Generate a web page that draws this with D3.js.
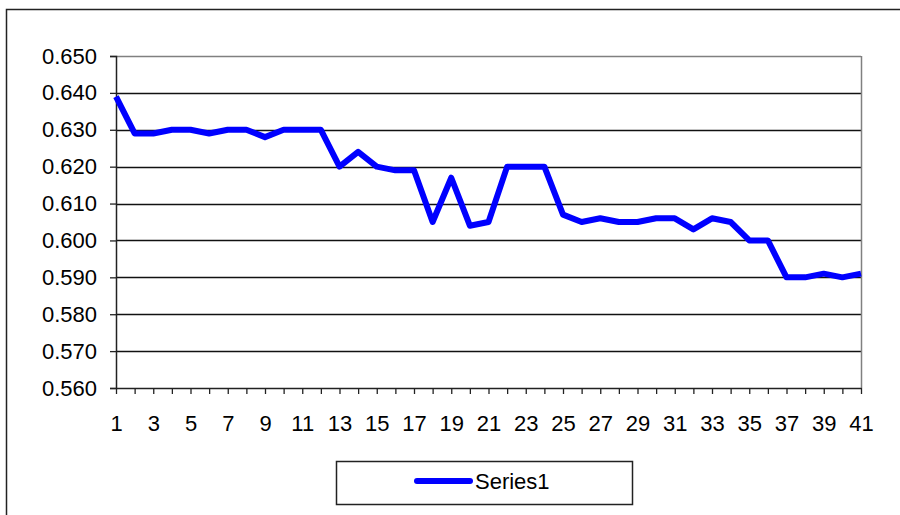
<!DOCTYPE html>
<html>
<head>
<meta charset="utf-8">
<script src="https://cdn.jsdelivr.net/npm/d3@7"></script>
<style>
  body { margin: 0; background: #fff; }
  svg { font-family: "Liberation Sans", Arial, sans-serif; }
</style>
</head>
<body>
<svg width="900" height="515"></svg>
<script>
(function (d3) {
  'use strict';

  const seriesName = 'Series1';
  const xValues = d3.range(1, 42);
  const series1 = [
    0.639, 0.629, 0.629, 0.630, 0.630, 0.629, 0.630, 0.630, 0.628, 0.630,
    0.630, 0.630, 0.620, 0.624, 0.620, 0.619, 0.619, 0.605, 0.617, 0.604,
    0.605, 0.620, 0.620, 0.620, 0.607, 0.605, 0.606, 0.605, 0.605, 0.606,
    0.606, 0.603, 0.606, 0.605, 0.600, 0.600, 0.590, 0.590, 0.591, 0.590,
    0.591
  ];
  const yTicks = [0.56, 0.57, 0.58, 0.59, 0.60, 0.61, 0.62, 0.63, 0.64, 0.65];
  const xTickLabels = xValues.filter(v => v % 2 === 1);

  const fontSize = 22;
  const svg = d3.select('svg');

  // outer chart border (runs off the right and bottom edges)
  svg.append('rect')
      .attr('x', 6.5).attr('y', 9.5)
      .attr('width', 910).attr('height', 520)
      .attr('fill', 'none')
      .attr('stroke', '#222')
      .attr('stroke-width', 1.5);

  const margin = { top: 56, left: 116 };
  const innerWidth = 745;
  const innerHeight = 332;

  const g = svg.append('g')
      .attr('transform', `translate(${margin.left},${margin.top})`);

  const x = d3.scaleLinear().domain([1, 41]).range([0, innerWidth]);
  const y = d3.scaleLinear().domain([0.56, 0.65]).range([innerHeight, 0]);

  // gridlines
  g.selectAll('.grid').data(yTicks.slice(1))
    .enter().append('line')
      .attr('x1', 0).attr('x2', innerWidth)
      .attr('y1', d => Math.round(y(d)) + 0.5)
      .attr('y2', d => Math.round(y(d)) + 0.5)
      .attr('stroke', d => d === 0.65 ? '#808080' : '#111')
      .attr('stroke-width', 1.3);

  // right border of plot area
  g.append('line')
      .attr('x1', innerWidth + 0.5).attr('x2', innerWidth + 0.5)
      .attr('y1', 0).attr('y2', innerHeight)
      .attr('stroke', '#808080')
      .attr('stroke-width', 1.5);

  // y axis
  const yAxis = d3.axisLeft(y)
      .tickValues(yTicks)
      .tickFormat(d3.format('.3f'))
      .tickSize(6)
      .tickPadding(13);
  const yG = g.append('g').call(yAxis);
  yG.select('.domain').attr('stroke', '#222').attr('stroke-width', 1.5);
  yG.selectAll('.tick line').attr('stroke', '#222').attr('stroke-width', 1.3);
  yG.selectAll('text').attr('font-size', fontSize).attr('fill', '#000')
      .attr('font-family', '"Liberation Sans", Arial, sans-serif');

  // x axis
  const xAxis = d3.axisBottom(x)
      .tickValues(xValues)
      .tickFormat(d => xTickLabels.includes(d) ? d : '')
      .tickSize(6)
      .tickSizeOuter(0)
      .tickPadding(21);
  const xG = g.append('g')
      .attr('transform', `translate(0,${innerHeight})`)
      .call(xAxis);
  xG.select('.domain').attr('stroke', '#222').attr('stroke-width', 1.5);
  xG.selectAll('.tick line').attr('stroke', '#222').attr('stroke-width', 1.3);
  xG.selectAll('text').attr('font-size', fontSize).attr('fill', '#000')
      .attr('font-family', '"Liberation Sans", Arial, sans-serif');

  // series line
  const line = d3.line()
      .x((d, i) => x(xValues[i]))
      .y(d => y(d));

  g.append('path')
      .datum(series1)
      .attr('d', line)
      .attr('fill', 'none')
      .attr('stroke', '#0000ff')
      .attr('stroke-width', 6)
      .attr('stroke-linejoin', 'round');

  // legend
  const legend = svg.append('g').attr('transform', 'translate(336,461)');
  legend.append('rect')
      .attr('x', 0.5).attr('y', 0.5)
      .attr('width', 296).attr('height', 43)
      .attr('fill', '#fff')
      .attr('stroke', '#222')
      .attr('stroke-width', 1.5);
  legend.append('line')
      .attr('x1', 81).attr('x2', 134)
      .attr('y1', 20).attr('y2', 20)
      .attr('stroke', '#0000ff')
      .attr('stroke-width', 6)
      .attr('stroke-linecap', 'round');
  legend.append('text')
      .attr('x', 139).attr('y', 28)
      .attr('font-size', fontSize)
      .text(seriesName);

}(d3));
</script>
</body>
</html>
